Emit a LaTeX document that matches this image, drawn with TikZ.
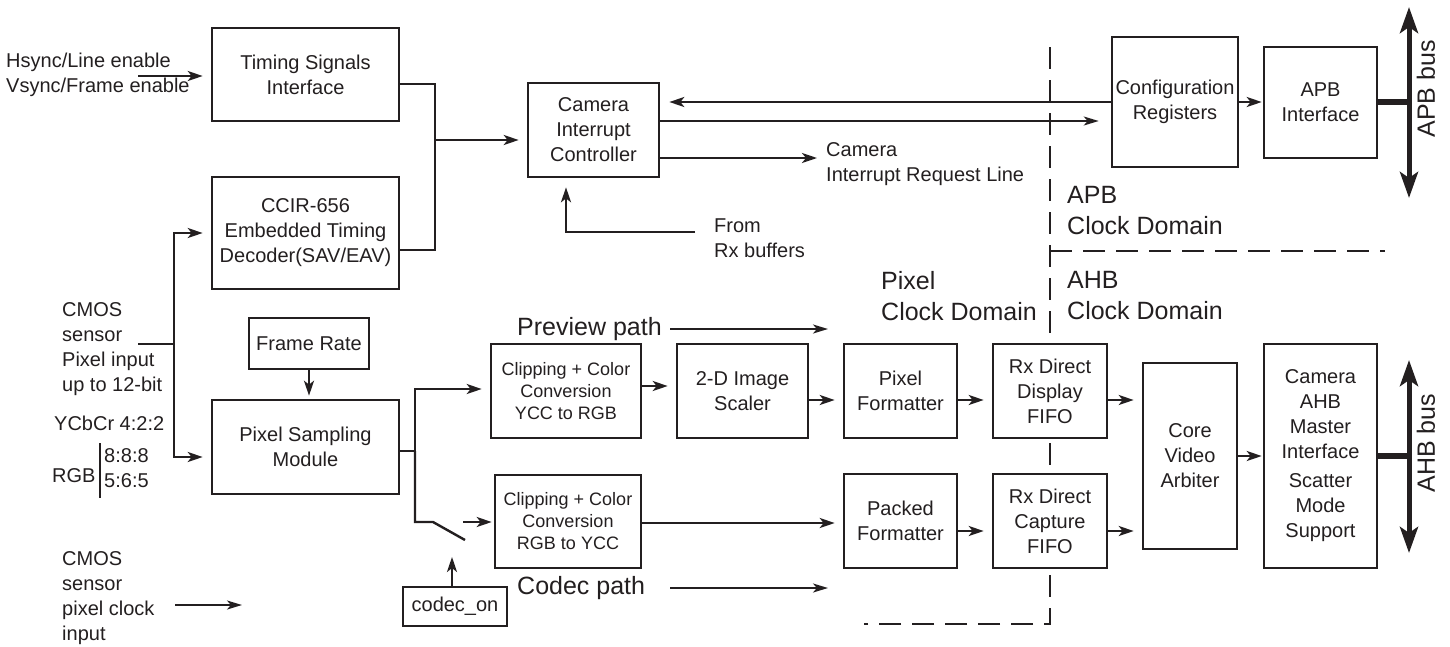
\documentclass[tikz,border=0pt]{standalone}
\usepackage{fontspec}
\setmainfont{Liberation Sans}
\usetikzlibrary{arrows.meta,calc}
\definecolor{ink}{RGB}{35,31,32}
\begin{document}
\begin{tikzpicture}[x=1pt,y=-1pt,
  font=\fontsize{20}{25}\selectfont,
  every node/.style={text=ink},
  blk/.style={draw=ink, line width=2.6pt, fill=white, align=center, inner sep=0pt},
  small/.style={font=\fontsize{18}{22}\selectfont},
  big/.style={font=\fontsize{25}{31}\selectfont},
  conn/.style={draw=ink, line width=2.4pt},
  arr/.style={conn, -{Stealth[length=15pt,width=10pt,inset=4pt]}, shorten >=8pt},
  thinarr/.style={draw=ink, line width=2pt, -{Stealth[length=15pt,width=9pt,inset=4pt]}},
  bus/.style={draw=ink, line width=5pt, {Stealth[length=26pt,width=18pt,inset=6pt]}-{Stealth[length=26pt,width=18pt,inset=6pt]}},
  busc/.style={draw=ink, line width=6pt},
  dom/.style={draw=ink, line width=2.5pt, dash pattern=on 22pt off 11pt},
  lbl/.style={anchor=west, align=left, inner sep=0pt}]
\useasboundingbox (0,0) rectangle (1450,646);

% clock domain borders
\draw[dom] (1050,47) -- (1050,624) -- (864,624);
\draw[dom] (1050,251) -- (1385,251);

% blocks
\node[blk, minimum width=187pt, minimum height=93pt] (timing) at (305.5,74.5) {Timing Signals\\Interface};
\node[blk, minimum width=187pt, minimum height=112pt] (ccir) at (305.5,233) {CCIR-656\\Embedded Timing\\Decoder(SAV/EAV)};
\node[blk, minimum width=131pt, minimum height=94pt] (cic) at (593.5,130) {Camera\\Interrupt\\Controller};
\node[blk, minimum width=120pt, minimum height=51pt] (frame) at (309,343.5) {Frame Rate};
\node[blk, minimum width=187pt, minimum height=94pt] (psm) at (305.5,447) {Pixel Sampling\\Module};
\node[blk, minimum width=104pt, minimum height=39pt] (codec) at (455,606.5) {codec\_on};
\node[blk, small, minimum width=150pt, minimum height=94pt] (clipa) at (566,391) {Clipping + Color\\Conversion\\YCC to RGB};
\node[blk, minimum width=131pt, minimum height=94pt] (scaler) at (742.5,391) {2-D Image\\Scaler};
\node[blk, small, minimum width=146pt, minimum height=93pt] (clipb) at (568,521.5) {Clipping + Color\\Conversion\\RGB to YCC};
\node[blk, minimum width=113pt, minimum height=94pt] (pixfmt) at (900.5,391) {Pixel\\Formatter};
\node[blk, minimum width=113pt, minimum height=94pt] (packfmt) at (900.5,521) {Packed\\Formatter};
\node[blk, minimum width=114pt, minimum height=94pt] (fifoa) at (1050,391) {Rx Direct\\Display\\FIFO};
\node[blk, minimum width=114pt, minimum height=94pt] (fifob) at (1050,521) {Rx Direct\\Capture\\FIFO};
\node[blk, minimum width=94pt, minimum height=186pt] (arb) at (1190,456) {Core\\Video\\Arbiter};
\node[blk, minimum width=113pt, minimum height=224pt] (ahb) at (1320.5,456) {Camera\\AHB\\Master\\Interface\\[4pt]Scatter\\Mode\\Support};
\node[blk, minimum width=126pt, minimum height=130pt] (cfg) at (1175,102) {Configuration\\Registers};
\node[blk, minimum width=113pt, minimum height=111pt] (apb) at (1320.5,102.5) {APB\\Interface};

% free-standing labels
\node[lbl] (hsync) at (6,75) {Hsync/Line enable\\Vsync/Frame enable};
\node[lbl] (cmos) at (62,349.5) {CMOS\\sensor\\Pixel input\\up to 12-bit};
\node[lbl] (ycbcr) at (54,423) {YCbCr 4:2:2};
\node[lbl] (rgb) at (52,476) {RGB};
\node[lbl] (r888) at (104,456) {8:8:8};
\node[lbl] (r565) at (104,481) {5:6:5};
\node[lbl] (pclk) at (62,598.5) {CMOS\\sensor\\pixel clock\\input};
\node[lbl] (fromrx) at (714,238) {From\\Rx buffers};
\node[lbl] (irqtxt) at (826,164) {Camera\\Interrupt Request Line};
\node[lbl, big] (pixdom) at (881,296) {Pixel\\Clock Domain};
\node[lbl, big] (apbdom) at (1067,211) {APB\\Clock Domain};
\node[lbl, big] (ahbdom) at (1067,296) {AHB\\Clock Domain};
\node[lbl, big] (prev) at (517,329) {Preview path};
\node[lbl, big] (cdcp) at (517,588) {Codec path};
\node[big, rotate=90, inner sep=0pt] (apbbus) at (1426,89) {APB bus};
\node[big, rotate=90, inner sep=0pt] (ahbbus) at (1426,443) {AHB bus};
\draw[draw=ink, line width=1.5pt] (100,443) -- (100,498);

% coordinates for free ends and junctions
\coordinate (hs) at (138,76);
\coordinate (ja) at (435,140);
\coordinate (irq) at (817,158);
\coordinate (rxb) at (695,232);
\coordinate (pin) at (138,344);
\coordinate (jb) at (174,344);
\coordinate (jc) at (415,451);
\coordinate (sw1) at (433,522);
\coordinate (sw2) at (465,540);
\coordinate (sw3) at (463,522);
\coordinate (sw4) at (452,557);
\coordinate (pv1) at (670,329);
\coordinate (pv2) at (828,329);
\coordinate (cp1) at (670,588);
\coordinate (cp2) at (828,588);
\coordinate (ck1) at (175,605);
\coordinate (ck2) at (242,605);
\coordinate (apbT) at (1409,7);
\coordinate (apbB) at (1409,198);
\coordinate (ahbT) at (1409,360);
\coordinate (ahbB) at (1409,553);

% connectors
\draw[arr] (hs) -- (timing.west |- hs);
\draw[conn] ($(timing.east)+(0,9.5)$) -| (ja);
\draw[conn] ($(ccir.east)+(0,17)$) -| (ja);
\draw[arr] (ja) -- (cic.west |- ja);
\draw[arr, shorten >=9pt] (cfg.west) -- (cic.east |- cfg.west);
\draw[thinarr, shorten >=12pt] ($(cic.east)+(0,-9)$) -- ($(cfg.west)+(0,19)$);
\draw[arr, shorten >=0pt] ($(cic.east)+(0,28)$) -- (irq);
\draw[arr, shorten >=9pt] (rxb) -| ($(cic.south)+(-27.5,0)$);

\draw[conn] (pin) -- (jb);
\draw[arr] (jb) |- (ccir.west);
\draw[arr] (jb) |- ($(psm.west)+(0,10)$);
\draw[arr, shorten >=3pt] (frame.south) -- (frame.south |- psm.north);

\draw[conn] ($(psm.east)+(0,4)$) -- (jc);
\draw[arr] (jc) |- ($(clipa.west)+(0,-2)$);
\draw[conn] (jc) |- (sw1) -- (sw2);
\draw[arr, shorten >=2pt] (sw3) -- (clipb.west |- sw3);
\draw[arr, shorten >=0pt] (codec.north -| sw4) -- (sw4);

\draw[arr] ($(clipa.east)+(0,-5)$) -- ($(scaler.west)+(0,-5)$);
\draw[arr] ($(scaler.east)+(0,9)$) -- ($(pixfmt.west)+(0,9)$);
\draw[arr] ($(pixfmt.east)+(0,9)$) -- ($(fifoa.west)+(0,9)$);
\draw[arr] ($(fifoa.east)+(0,9)$) -- ($(arb.west |- fifoa.east)+(0,9)$);
\draw[arr] ($(clipb.east)+(0,1.5)$) -- ($(packfmt.west |- clipb.east)+(0,1.5)$);
\draw[arr] ($(packfmt.east)+(0,10)$) -- ($(fifob.west)+(0,10)$);
\draw[arr] ($(fifob.east)+(0,10)$) -- ($(arb.west |- fifob.east)+(0,10)$);
\draw[arr, shorten >=1pt] (arb.east) -- (ahb.west);
\draw[arr, shorten >=1pt] (cfg.east) -- (apb.west |- cfg.east);

\draw[thinarr] (pv1) -- (pv2);
\draw[thinarr] (cp1) -- (cp2);
\draw[thinarr] (ck1) -- (ck2);

\draw[bus] (apbT) -- (apbB);
\draw[busc] (apb.east |- cfg.east) -- (apbT |- cfg.east);
\draw[bus] (ahbT) -- (ahbB);
\draw[busc] (ahb.east) -- (ahbT |- ahb.east);
\end{tikzpicture}
\end{document}
